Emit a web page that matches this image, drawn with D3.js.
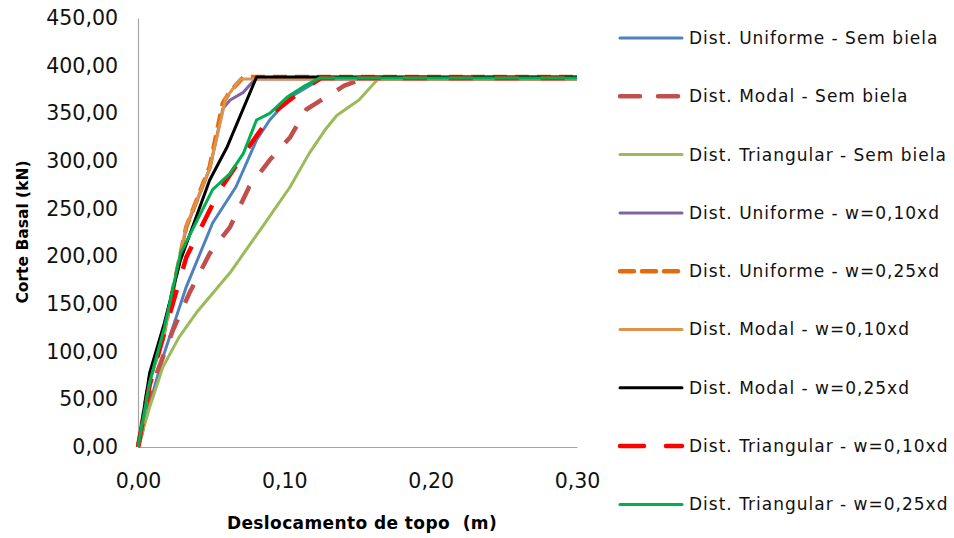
<!DOCTYPE html>
<html><head><meta charset="utf-8">
<script src="https://cdn.jsdelivr.net/npm/d3@7"></script>
<style>body{margin:0;background:#fff}svg{display:block}</style>
</head><body>
<svg id="c" width="954" height="538"></svg>
<script>
// ---- data ----
const seriesNames = [
  "Dist. Uniforme - Sem biela","Dist. Modal - Sem biela","Dist. Triangular - Sem biela",
  "Dist. Uniforme - w=0,10xd","Dist. Uniforme - w=0,25xd","Dist. Modal - w=0,10xd",
  "Dist. Modal - w=0,25xd","Dist. Triangular - w=0,10xd","Dist. Triangular - w=0,25xd"
];
const uniSem   = [[0,0],[0.008,45],[0.017,94],[0.033,168],[0.051,235],[0.067,273],[0.081,322],[0.090,343],[0.104,367],[0.125,386],[0.30,386]];
const modalSem = [[0,0],[0.013,78],[0.024,123],[0.035,161],[0.049,203],[0.063,231],[0.076,273],[0.090,301],[0.104,325],[0.115,354],[0.141,379],[0.155,387],[0.30,387]];
const triSem   = [[0,0],[0.008,42],[0.017,84],[0.028,115],[0.040,141],[0.063,183],[0.085,231],[0.104,273],[0.117,308],[0.128,333],[0.136,348],[0.151,364],[0.164,386],[0.30,386]];
const uni010   = [[0,0],[0.008,70],[0.017,112],[0.033,230],[0.049,292],[0.058,355],[0.063,364],[0.072,372],[0.080,386],[0.30,386]];
const uni025   = [[0,0],[0.008,72],[0.017,115],[0.033,231],[0.049,294],[0.058,361],[0.063,373],[0.072,388],[0.30,388]];
const modal010 = [[0,0],[0.008,70],[0.017,113],[0.033,232],[0.049,292],[0.060,366],[0.070,386],[0.30,386]];
const modal025 = [[0,0],[0.008,78],[0.018,130],[0.029,196],[0.049,280],[0.061,315],[0.081,388],[0.30,388]];
const tri010   = [[0,0],[0.008,65],[0.018,120],[0.033,199],[0.056,270],[0.079,322],[0.092,350],[0.113,375],[0.125,387],[0.30,387]];
const tri025   = [[0,0],[0.008,68],[0.018,125],[0.029,203],[0.051,270],[0.063,287],[0.072,308],[0.081,343],[0.090,350],[0.102,367],[0.113,378],[0.124,387],[0.30,387]];
const xTicks = [0, 0.10, 0.20, 0.30];
const yTicks = [0,50,100,150,200,250,300,350,400,450];

// ---- styles ----
const styles = [
  {c:"#4F81BD", w:3,   d:null},
  {c:"#C0504D", w:4.5, d:"20,18"},
  {c:"#9BBB59", w:3,   d:null},
  {c:"#8064A2", w:3,   d:null},
  {c:"#E46C0A", w:4.5, d:"14,8"},
  {c:"#E0914A", w:3,   d:null},
  {c:"#000000", w:3,   d:null},
  {c:"#FF0000", w:4.5, d:"24,22"},
  {c:"#00B050", w:3,   d:null}
];
const allSeries = [uniSem, modalSem, triSem, uni010, uni025, modal010, modal025, tri010, tri025];

const svg = d3.select("#c");
const x = d3.scaleLinear().domain([0,0.3]).range([138,577]);
const y = d3.scaleLinear().domain([0,450]).range([447,18]);
const loc = d3.formatLocale({decimal:",",thousands:".",grouping:[3],currency:["",""]});
const f2 = loc.format(".2f");

const font = "DejaVu Sans";

// axes
const gy = svg.append("g").attr("transform","translate(138,0)")
  .call(d3.axisLeft(y).tickValues(yTicks).tickFormat(f2).tickSize(0).tickPadding(20));
gy.select(".domain").attr("stroke","#A6A6A6").attr("stroke-width",1.2);
gy.selectAll("text").attr("font-family",font).attr("font-size",20.5).attr("fill","#111");

const gx = svg.append("g").attr("transform","translate(0,447)")
  .call(d3.axisBottom(x).tickValues(xTicks).tickFormat(f2).tickSize(0).tickPadding(26));
gx.select(".domain").attr("stroke","#A6A6A6").attr("stroke-width",1.2);
gx.selectAll("text").attr("font-family",font).attr("font-size",20.5).attr("fill","#111");

// titles
svg.append("text").attr("transform","translate(28,232) rotate(-90)")
  .attr("text-anchor","middle").attr("font-family",font).attr("font-weight","bold")
  .attr("font-size",15.5).text("Corte Basal (kN)");
svg.append("text").attr("x",362).attr("y",529)
  .attr("text-anchor","middle").attr("font-family",font).attr("font-weight","bold")
  .attr("font-size",17).attr("letter-spacing",0.4).attr("xml:space","preserve").text("Deslocamento de topo  (m)");

// lines
const line = d3.line().x(d=>x(d[0])).y(d=>y(d[1]));
allSeries.forEach((s,i)=>{
  const st = styles[i];
  svg.append("path").attr("d",line(s)).attr("fill","none")
    .attr("stroke",st.c).attr("stroke-width",st.w)
    .attr("stroke-dasharray",st.d).attr("stroke-linejoin","round");
});

// legend
const lg = svg.append("g");
seriesNames.forEach((n,i)=>{
  const yy = 38 + i*58.3;
  const st = styles[i];
  lg.append("line").attr("x1",620).attr("x2",682).attr("y1",yy).attr("y2",yy)
    .attr("stroke",st.c).attr("stroke-width",st.w)
    .attr("stroke-dasharray",st.d).attr("stroke-linecap","round");
  lg.append("text").attr("x",689).attr("y",yy).attr("dy","0.35em")
    .attr("font-family",font).attr("font-size",17).attr("letter-spacing",1)
    .attr("fill","#111").text(n);
});
</script>
</body></html>
